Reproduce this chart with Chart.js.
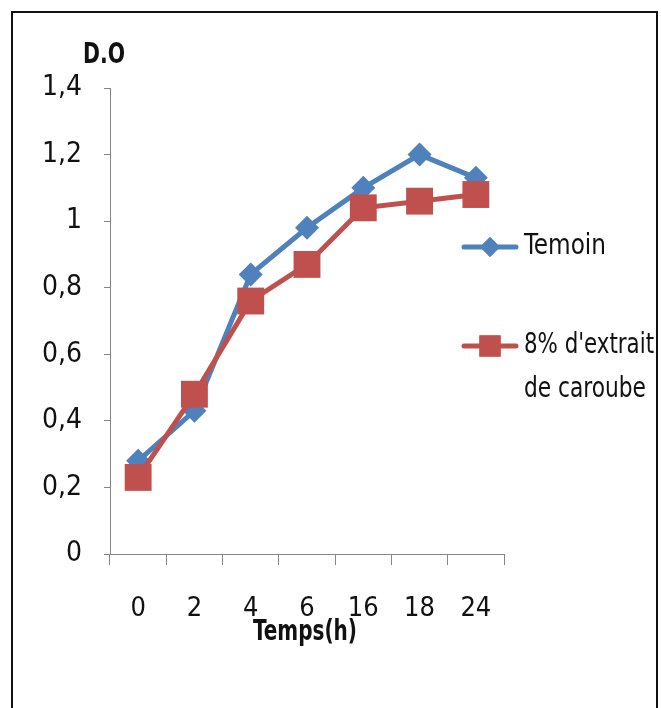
<!DOCTYPE html>
<html>
<head>
<meta charset="utf-8">
<script src="https://cdn.jsdelivr.net/npm/chart.js@4.4.0/dist/chart.umd.min.js"></script>
<style>
  body { margin: 0; background: #fff; }
  #wrap { position: relative; width: 661px; height: 708px; overflow: hidden; }
  #frame { position: absolute; left: 11px; top: 11px; width: 643px; height: 720px; border: 2px solid #111; }
  canvas { position: absolute; left: 0; top: 0; }
</style>
</head>
<body>
<div id="wrap">
  <div id="frame"></div>
  <canvas id="chart" width="661" height="708"></canvas>
</div>
<script>
const hours = ['0', '2', '4', '6', '16', '18', '24'];
const temoin = [0.28, 0.43, 0.84, 0.98, 1.10, 1.20, 1.13];
const caroube = [0.23, 0.48, 0.76, 0.87, 1.04, 1.06, 1.08];
const legendNames = [['Temoin'], ["8% d'extrait", 'de caroube']];

const FONT = '"Liberation Sans Narrow", "DejaVu Sans Condensed", sans-serif';
const BLUE = '#4F81BD';
const RED = '#C0504D';
const AXIS = '#868686';

// axis titles and the legend on the right, text squeezed like the original narrow font
const extras = {
  id: 'extras',
  afterDraw(chart) {
    const ctx = chart.ctx;
    const xs = chart.scales.x;
    ctx.save();
    ctx.fillStyle = '#111';
    ctx.font = 'bold 28px ' + FONT;
    ctx.textBaseline = 'middle';
    ctx.textAlign = 'left';
    ctx.fillText('D.O', 83, 56, 42);
    ctx.textAlign = 'center';
    ctx.fillText('Temps(h)', (xs.left + xs.right) / 2 - 2, 633, 104);

    ctx.textAlign = 'left';
    const rows = [247, 346];
    const sizes = [[10, 1], [15, 1]];
    const widths = [[82], [130, 122]];
    chart.data.datasets.slice().sort((a, b) => a.legendIndex - b.legendIndex).forEach((ds, i) => {
      const y = rows[i];
      ctx.strokeStyle = ds.borderColor;
      ctx.lineWidth = 5;
      ctx.lineCap = 'round';
      ctx.beginPath();
      ctx.moveTo(464, y);
      ctx.lineTo(516, y);
      ctx.stroke();
      ctx.fillStyle = ds.backgroundColor;
      Chart.helpers.drawPoint(ctx, {pointStyle: ds.pointStyle, radius: sizes[i][0], borderWidth: 0}, 490, y);
      ctx.fill();
      ctx.fillStyle = '#111';
      ctx.font = '28px ' + FONT;
      legendNames[i].forEach((t, j) => ctx.fillText(t, 524, y + j * 44, widths[i][j]));
    });
    ctx.restore();
  }
};

new Chart(document.getElementById('chart'), {
  type: 'line',
  data: {
    labels: hours,
    datasets: [{
      label: 'Temoin',
      legendIndex: 0,
      data: temoin,
      borderColor: BLUE,
      backgroundColor: BLUE,
      borderWidth: 5,
      pointStyle: 'rectRot',
      pointRadius: 12,
      pointBorderWidth: 0,
      tension: 0,
      order: 2
    }, {
      label: "8% d'extrait de caroube",
      legendIndex: 1,
      data: caroube,
      borderColor: RED,
      backgroundColor: RED,
      borderWidth: 5,
      pointStyle: 'rect',
      pointRadius: 19,
      pointBorderWidth: 0,
      tension: 0,
      order: 1
    }]
  },
  options: {
    responsive: false,
    animation: false,
    layout: { padding: { left: 0, top: 88, right: 157, bottom: 0 } },
    plugins: {
      legend: { display: false },
      tooltip: { enabled: false }
    },
    scales: {
      x: {
        offset: true,
        grid: { offset: true, drawOnChartArea: false, tickLength: 11, color: AXIS },
        border: { color: AXIS },
        ticks: { color: '#111', padding: 28, font: { family: FONT, size: 27 } },
        afterFit: s => { s.height = 154; }
      },
      y: {
        min: 0, max: 1.4,
        grid: { drawOnChartArea: false, tickLength: 6, color: AXIS },
        border: { color: AXIS },
        ticks: {
          stepSize: 0.2, color: '#111', padding: 22,
          font: { family: FONT, size: 28 },
          callback: v => String(Math.round(v * 10) / 10).replace('.', ',')
        },
        afterFit: s => { s.width = 110; }
      }
    }
  },
  plugins: [extras]
});
</script>
</body>
</html>
